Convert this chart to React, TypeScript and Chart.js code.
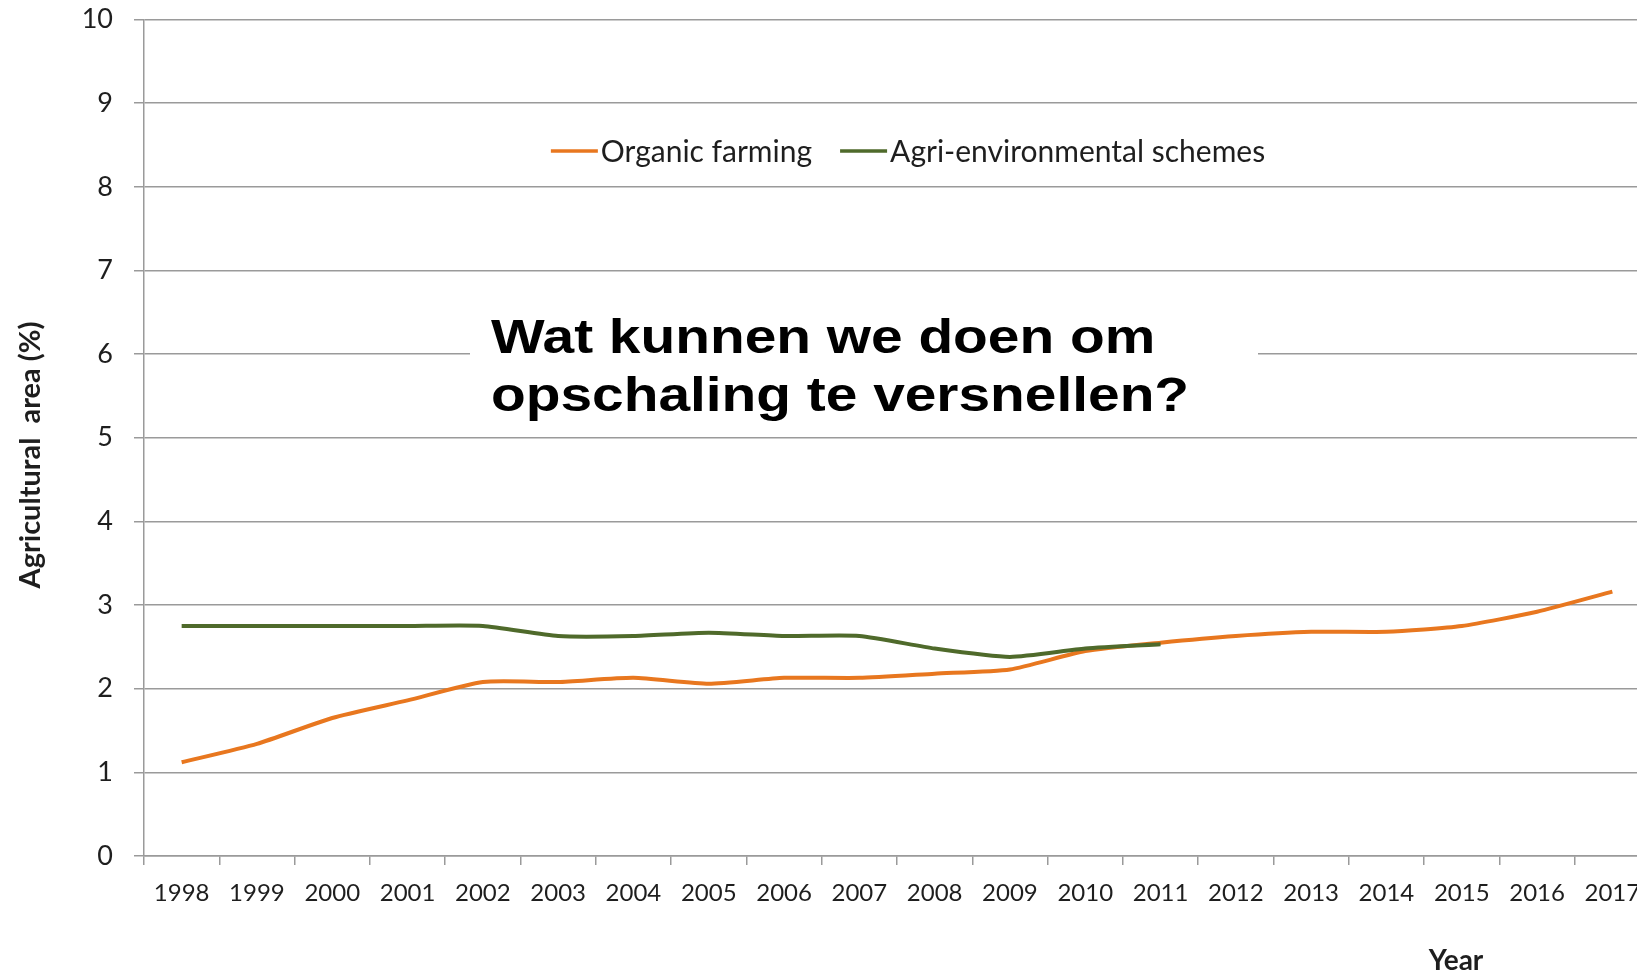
import React, { useEffect, useRef } from "react";
import { Chart, registerables } from "chart.js";

Chart.register(...registerables);

const years = [
  "1998", "1999", "2000", "2001", "2002", "2003", "2004", "2005", "2006", "2007",
  "2008", "2009", "2010", "2011", "2012", "2013", "2014", "2015", "2016", "2017",
];

const organicFarming = [
  1.12, 1.34, 1.65, 1.86, 2.08, 2.08, 2.13, 2.06, 2.13, 2.13,
  2.18, 2.23, 2.45, 2.55, 2.63, 2.68, 2.68, 2.75, 2.92, 3.16,
];

const agriEnvironmental = [
  2.75, 2.75, 2.75, 2.75, 2.75, 2.63, 2.63, 2.67, 2.63, 2.63,
  2.48, 2.38, 2.48, 2.53, null, null, null, null, null, null,
];

const yTicks = [0, 1, 2, 3, 4, 5, 6, 7, 8, 9, 10];

const seriesLabels = ["Organic farming", "Agri-environmental schemes"];
const overlayLines = ["Wat kunnen we doen om", "opschaling te versnellen?"];
const xTitle = "Year";
const yTitle = "Agricultural  area (%)";

const ORANGE = "#E8771F";
const GREEN = "#4F6A2B";
const GRID = "#9a9a9a";
const TEXT = "#1e1e1e";

const overlayPlugin = {
  id: "overlayPlugin",
  afterDraw(chart: any) {
    const ctx = chart.ctx as CanvasRenderingContext2D;
    ctx.save();

    // Legend inside the chart area
    ctx.font = "30px Lato";
    ctx.textBaseline = "middle";
    const lineLen = 47;
    const gap = 3;
    const itemGap = 28;
    const items = chart.data.datasets.map((ds: any) => ({ label: ds.label, color: ds.borderColor }));
    const widths = items.map((it: any) => lineLen + gap + ctx.measureText(it.label).width);
    const total = widths.reduce((a: number, b: number) => a + b, 0) + itemGap * (items.length - 1);
    let x = 908 - total / 2;
    const ly = 151;
    items.forEach((it: any, i: number) => {
      ctx.strokeStyle = it.color;
      ctx.lineWidth = 3.5;
      ctx.beginPath();
      ctx.moveTo(x, ly);
      ctx.lineTo(x + lineLen, ly);
      ctx.stroke();
      ctx.fillStyle = TEXT;
      ctx.textAlign = "left";
      ctx.fillText(it.label, x + lineLen + gap, ly + 1);
      x += widths[i] + itemGap;
    });

    // Overlay box with big text
    ctx.fillStyle = "#ffffff";
    ctx.fillRect(470, 300, 788, 124);
    ctx.fillStyle = "#000000";
    ctx.textBaseline = "alphabetic";
    ctx.textAlign = "left";
    ctx.font = "bold 49px 'Liberation Sans', Arial, sans-serif";
    const sx = 1.16;
    ctx.save();
    ctx.translate(491, 0);
    ctx.scale(sx, 1);
    ctx.fillText(overlayLines[0], 0, 353);
    ctx.fillText(overlayLines[1], 0, 411);
    ctx.restore();

    // Y axis title
    ctx.save();
    ctx.font = "bold 29px Lato";
    ctx.fillStyle = TEXT;
    ctx.textAlign = "center";
    ctx.textBaseline = "middle";
    ctx.translate(31, 455);
    ctx.rotate(-Math.PI / 2);
    ctx.fillText(yTitle, 0, 0);
    ctx.restore();

    // X axis title
    ctx.font = "bold 28px Lato";
    ctx.fillStyle = TEXT;
    ctx.textAlign = "center";
    ctx.textBaseline = "alphabetic";
    ctx.fillText(xTitle, 1456, 970);

    ctx.restore();
  },
};

export default function App() {
  const canvasRef = useRef<HTMLCanvasElement | null>(null);

  useEffect(() => {
    if (!canvasRef.current) return;
    const chart = new Chart(canvasRef.current, {
      type: "line",
      data: {
        labels: years,
        datasets: [
          {
            label: seriesLabels[0],
            data: organicFarming,
            borderColor: ORANGE,
            backgroundColor: ORANGE,
            borderWidth: 4,
            pointRadius: 0,
            tension: 0.2,
            order: 2,
          },
          {
            label: seriesLabels[1],
            data: agriEnvironmental,
            borderColor: GREEN,
            backgroundColor: GREEN,
            borderWidth: 4,
            pointRadius: 0,
            tension: 0.2,
            spanGaps: false,
            order: 1,
          },
        ],
      },
      options: {
        responsive: false,
        animation: false,
        devicePixelRatio: 1,
        layout: { padding: { top: 19.5, right: 10, left: 0, bottom: 0 } },
        plugins: {
          legend: { display: false },
          tooltip: { enabled: false },
        },
        scales: {
          x: {
            type: "category",
            offset: true,
            grid: {
              offset: true,
              drawOnChartArea: false,
              drawTicks: true,
              tickLength: 9,
              color: GRID,
              lineWidth: 1.5,
            },
            border: { display: true, color: GRID, width: 1.5 },
            ticks: {
              color: TEXT,
              font: { family: "Lato", size: 24 },
              padding: 14,
              maxRotation: 0,
              autoSkip: false,
            },
            afterFit: (scale: any) => {
              scale.height = 118;
              scale.paddingLeft = 0;
              scale.paddingRight = 0;
            },
          },
          y: {
            min: 0,
            max: 10,
            afterBuildTicks: (scale: any) => {
              scale.ticks = yTicks.map((v) => ({ value: v }));
            },
            grid: {
              color: GRID,
              lineWidth: 1.5,
              tickLength: 10,
            },
            border: { display: true, color: GRID, width: 1.5 },
            ticks: {
              color: TEXT,
              font: { family: "Lato", size: 27 },
              padding: 21,
            },
            afterFit: (scale: any) => {
              scale.width = 144;
              scale.paddingTop = 0;
              scale.paddingBottom = 0;
            },
          },
        },
      },
      plugins: [overlayPlugin],
    });
    return () => chart.destroy();
  }, []);

  return (
    <div
      style={{
        position: "fixed",
        left: 0,
        top: 0,
        width: 1637,
        height: 974,
        overflow: "hidden",
        background: "#ffffff",
      }}
    >
      <canvas ref={canvasRef} width={1660} height={974} style={{ display: "block" }} />
    </div>
  );
}
